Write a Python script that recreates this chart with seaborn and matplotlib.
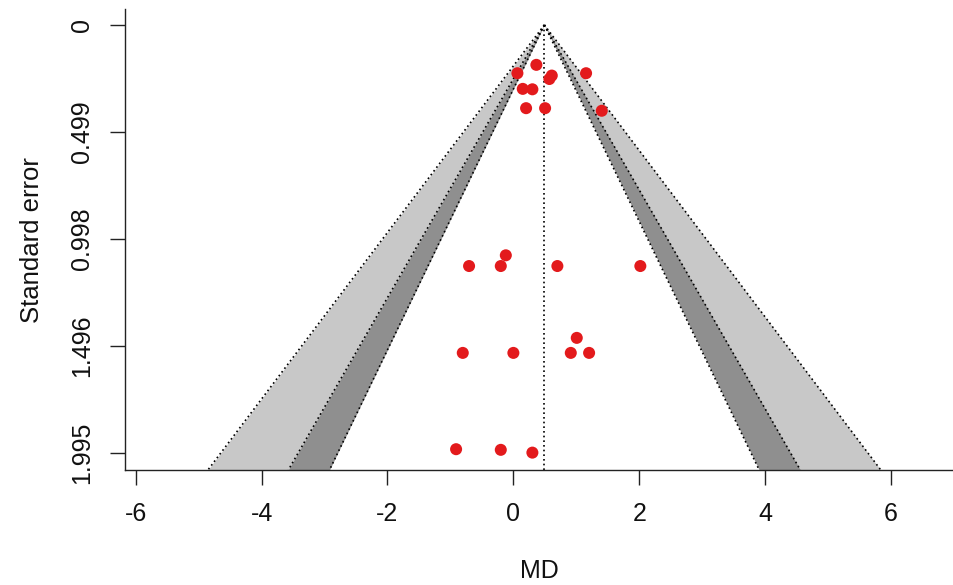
import numpy as np
import pandas as pd
import matplotlib
matplotlib.use("Agg")
import matplotlib.pyplot as plt
import seaborn as sns

# ---- data ----
md = [0.064, 0.365, 0.61, 0.572, 1.155, 0.149, 0.302, 0.202, 0.504, 1.404,
      -0.704, -0.20, -0.12, 0.699, 2.017,
      -0.804, 0.0, 1.007, 0.912, 1.203,
      -0.91, -0.20, 0.302]
se = [0.225, 0.186, 0.236, 0.252, 0.225, 0.298, 0.300, 0.388, 0.388, 0.400,
      1.124, 1.124, 1.074, 1.124, 1.124,
      1.529, 1.529, 1.459, 1.529, 1.529,
      1.978, 1.981, 1.994]
estimate = 0.492
z_levels = [2.576, 1.960, 1.645]            # 99%, 95%, 90% contours
shades = ["#c8c8c8", "#8f8f8f", "#ffffff"]
x_ticks = [-6, -4, -2, 0, 2, 4, 6]
y_ticks = [0, 0.499, 0.998, 1.496, 1.995]
y_tick_labels = ["0", "0.499", "0.998", "1.496", "1.995"]

sns.set_theme(style="ticks")
plt.rcParams['font.family'] = ['Liberation Sans', 'DejaVu Sans']

fig = plt.figure(figsize=(9.54, 5.85), dpi=100)
ax = fig.add_axes([125/954, 1-470/585, 1-125/954, (470-9.3)/585])

ylim = (2.075, -0.073)
se_grid = np.array([0.0, ylim[0]])
dot = (0, (1, 1.8))
for z, c in zip(z_levels, shades):
    ax.fill_betweenx(se_grid, estimate - z*se_grid, estimate + z*se_grid,
                     color=c, lw=0, zorder=1)
for z in z_levels:
    for sgn in (-1, 1):
        line_df = pd.DataFrame({"x": estimate + sgn*z*se_grid, "y": se_grid})
        ax.plot(line_df["x"], line_df["y"], color="black", lw=1.2,
                linestyle=dot, zorder=2)
ax.plot([estimate, estimate], [0, ylim[0]], color="black", lw=1.2,
        linestyle=dot, zorder=2)

df = pd.DataFrame({"MD": md, "SE": se})
sns.scatterplot(data=df, x="MD", y="SE", ax=ax, color="#e31a1c", s=75,
                edgecolor="none", linewidth=0, zorder=3)

ax.set_xlim(-6.17, 7.0)
ax.set_ylim(*ylim)
ax.set_xticks(x_ticks)
ax.set_xticklabels([str(t) for t in x_ticks])
ax.set_yticks(y_ticks)
ax.set_yticklabels(y_tick_labels, rotation=90, va="center")
for s in ["top", "right"]:
    ax.spines[s].set_visible(False)
for s in ["left", "bottom"]:
    ax.spines[s].set_color("#222222")
    ax.spines[s].set_linewidth(1.0)
ax.tick_params(axis="both", length=11, width=1.0, color="#222222",
               labelsize=18, labelcolor="#111111", pad=11)
ax.tick_params(axis="x", pad=12)
ax.set_xlabel("MD", fontsize=18, labelpad=24, color="#111111")
ax.set_ylabel("Standard error", fontsize=18.5, labelpad=19, color="#111111")

fig.savefig("out.png", dpi=100)
